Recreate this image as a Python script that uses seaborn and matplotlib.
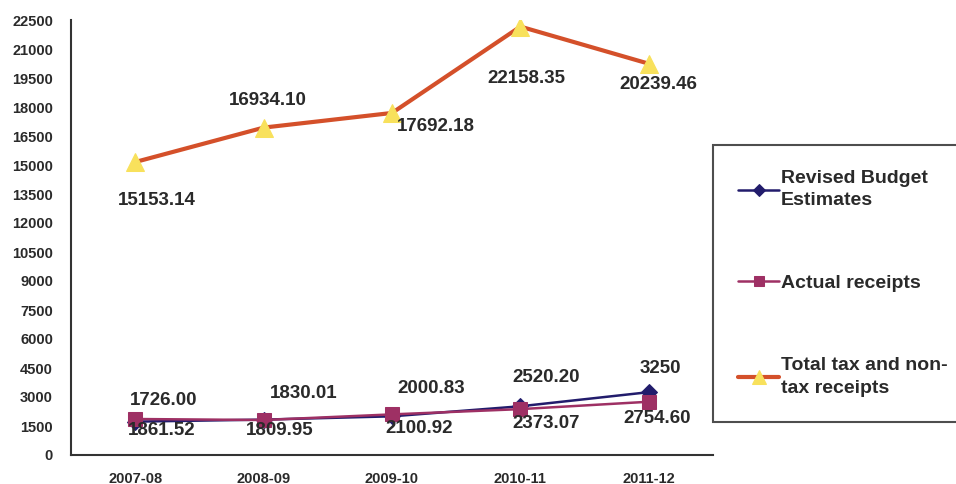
"""Revenue receipts: revised estimates vs actuals vs total tax and non-tax receipts."""
import matplotlib
matplotlib.use("Agg")
import matplotlib.pyplot as plt
import numpy as np
import pandas as pd
import seaborn as sns

years = ["2007-08", "2008-09", "2009-10", "2010-11", "2011-12"]
revised = [1726.00, 1830.01, 2000.83, 2520.20, 3250]
actual = [1861.52, 1809.95, 2100.92, 2373.07, 2754.60]
total = [15153.14, 16934.10, 17692.18, 22158.35, 20239.46]

revised_text = ["1726.00", "1830.01", "2000.83", "2520.20", "3250"]
actual_text = ["1861.52", "1809.95", "2100.92", "2373.07", "2754.60"]
total_text = ["15153.14", "16934.10", "17692.18", "22158.35", "20239.46"]

# label offsets in pixels (dx, dy) from each point
revised_off = [(28, 21), (40, 26), (39, 28), (26, 29), (12, 24)]
actual_off = [(26, -11), (16, -10), (27, -14), (26, -14), (8, -17)]
total_off = [(22, -38), (4, 27), (44, -14), (6, -52), (10, -21)]

TEXT = "#2a2a2a"
AXIS = "#333333"

sns.set_theme(style="white")
plt.rcParams["font.family"] = ["Liberation Sans", "DejaVu Sans"]

df = pd.DataFrame({"year": years, "revised": revised, "actual": actual, "total": total})
df["x"] = np.arange(len(years))

fig = plt.figure(figsize=(9.56, 4.84), dpi=100)
ax = fig.add_axes([71 / 956, 29 / 484, 642 / 956, 435 / 484])

sns.lineplot(data=df, x="x", y="revised", ax=ax, color="#221c6c", lw=1.8,
             marker="D", markersize=8, markeredgecolor="#221c6c",
             label="Revised Budget\nEstimates")
sns.lineplot(data=df, x="x", y="actual", ax=ax, color="#9e3064", lw=1.8,
             marker="s", markersize=10, markeredgecolor="#9e3064",
             label="Actual receipts")
sns.lineplot(data=df, x="x", y="total", ax=ax, color="#d4502a", lw=3,
             marker="^", markersize=13, markerfacecolor="#f8e15c",
             markeredgecolor="#f8e15c",
             label="Total tax and non-\ntax receipts")

for vals, texts, offs in [(revised, revised_text, revised_off),
                          (actual, actual_text, actual_off),
                          (total, total_text, total_off)]:
    for i, (v, t, (dx, dy)) in enumerate(zip(vals, texts, offs)):
        ax.annotate(t, (i, v), xytext=(dx * 0.72, dy * 0.72), textcoords="offset points",
                    ha="center", va="center", fontsize=13.5, fontweight="bold", color=TEXT)

ax.set_xlim(-0.5, 4.5)
ax.set_ylim(0, 22500)
ax.set_yticks(np.arange(0, 22501, 1500))
ax.set_yticklabels([str(v) for v in range(0, 22501, 1500)], fontsize=10.5,
                   fontweight="bold", color=TEXT)
ax.set_xticks(df["x"])
ax.set_xticklabels(years, fontsize=10.5, fontweight="bold", color=TEXT)
ax.set_xticks(np.arange(-0.5, 5, 1), minor=True)
ax.tick_params(axis="x", which="major", length=0, pad=12)
ax.tick_params(axis="x", which="minor", length=5, width=1.3, color=AXIS, direction="out")
ax.tick_params(axis="y", length=5, width=1.3, color=AXIS, direction="out", pad=8)
ax.set_xlabel("")
ax.set_ylabel("")
for side in ["top", "right"]:
    ax.spines[side].set_visible(False)
for side in ["left", "bottom"]:
    ax.spines[side].set_color(AXIS)
    ax.spines[side].set_linewidth(1.5)

leg = ax.legend(loc="upper left", bbox_to_anchor=(713 / 956, 339 / 484, 300 / 956, 0),
                bbox_transform=fig.transFigure, mode="expand", frameon=True, fancybox=False,
                prop={"size": 14, "weight": "bold"}, labelspacing=3.35, handlelength=2.1,
                handletextpad=0.1, borderpad=1.3, borderaxespad=0, markerscale=0.75)
leg.get_frame().set_edgecolor("#222222")
leg.get_frame().set_linewidth(1.5)
for txt in leg.get_texts():
    txt.set_color(TEXT)
    txt.set_linespacing(1.4)

fig.savefig("out.png", dpi=100)
